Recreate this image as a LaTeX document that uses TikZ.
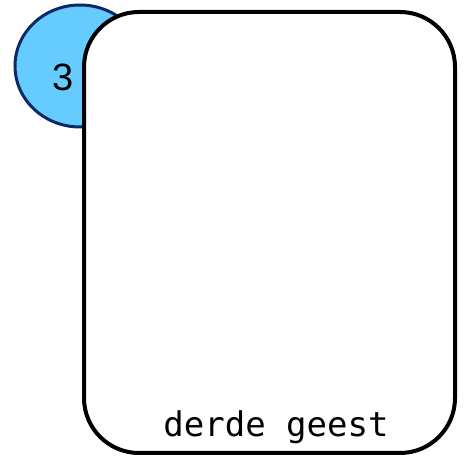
\documentclass[tikz,border=0pt]{standalone}
\usepackage{fontspec}
\usetikzlibrary{shapes.geometric}
\setmainfont{Liberation Sans}
\newfontfamily\labelfont{DejaVu Sans Mono}
\definecolor{bubblefill}{HTML}{66CCFF}
\definecolor{bubbleline}{HTML}{0A2A66}
\begin{document}
\begin{tikzpicture}[x=1pt,y=-1pt,
  bubble/.style={ellipse, draw=bubbleline, fill=bubblefill, line width=3pt, minimum width=130pt, minimum height=122pt, inner sep=0pt},
  card/.style={draw=black, fill=white, line width=4pt, rounded corners=55pt},
]
\useasboundingbox (0,0) rectangle (467,457);
\node[bubble] (b) at (80,66) {};
\node[font=\fontsize{38}{38}\selectfont] (n) at (63,77) {3};
\draw[card] (84,12) rectangle (455,453);
\node[anchor=base, font=\labelfont\fontsize{34}{36}\selectfont, inner sep=0pt] (t) at (276,437) {derde geest};
\end{tikzpicture}
\end{document}
